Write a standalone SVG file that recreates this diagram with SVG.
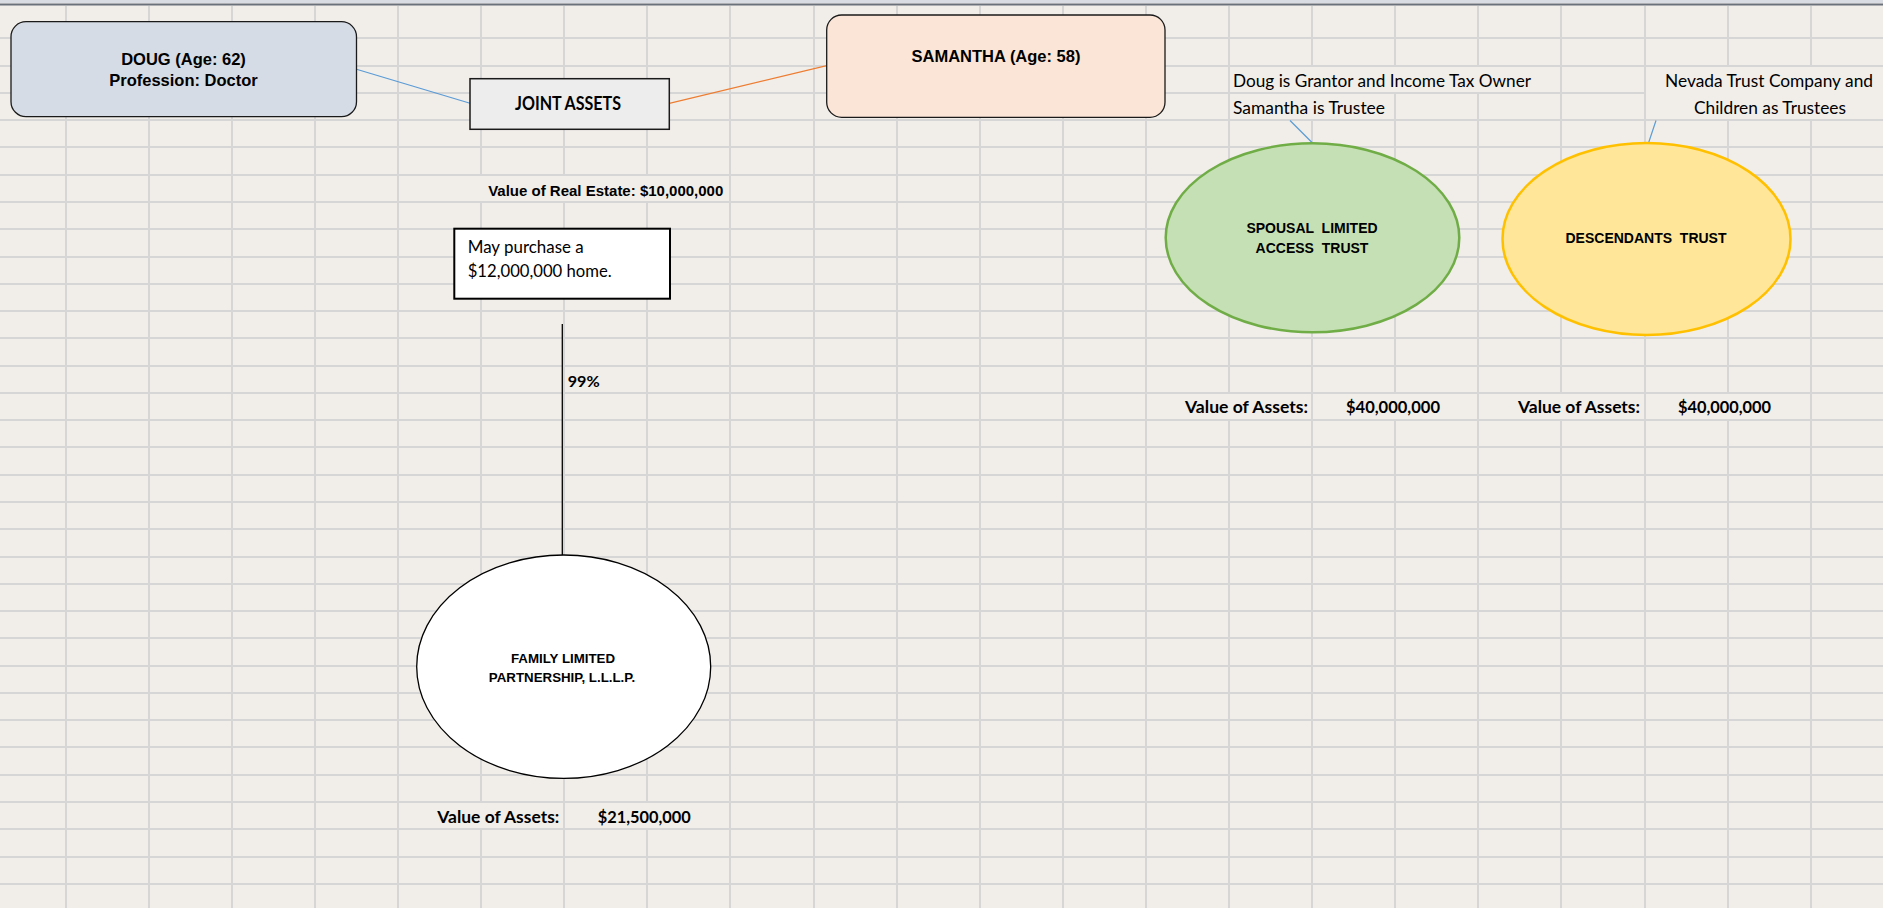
<svg xmlns="http://www.w3.org/2000/svg" width="1883" height="908" viewBox="0 0 1883 908">
  <style>
    .grid { fill: none; stroke: #d6d6d6; stroke-width: 2; }
    .arialb { font-family: "Liberation Sans", Arial, sans-serif; font-weight: bold; fill: #000; }
    .cal { font-family: Lato, "Liberation Sans", sans-serif; fill: #000; }
    .calb { font-family: Lato, "Liberation Sans", sans-serif; font-weight: bold; fill: #000; }
    .box { stroke: #1a1a1a; stroke-width: 1.3; }
    .link-blue { stroke: #5b9bd5; stroke-width: 1.2; fill: none; }
    .link-orange { stroke: #ed7d31; stroke-width: 1.2; fill: none; }
    .link-black { stroke: #000; stroke-width: 1.3; fill: none; }
  </style>

  <!-- sheet background -->
  <rect x="0" y="0" width="1883" height="908" fill="#f1eeea"/>

  <!-- cell gridlines (gaps where text overflows or cells are merged) -->
  <path class="grid" d="
    M66 6V908 M149 6V908 M232 6V908 M315 6V908 M398 6V908
    M481 6V175 M481 202V802 M481 829V908
    M564 6V175 M564 202V908
    M647 6V175 M647 202V802 M647 829V908
    M730 6V908 M814 6V908 M897 6V908 M980 6V908 M1063 6V908 M1146 6V908
    M1229 6V393 M1229 420V908
    M1312 6V66 M1312 120V908
    M1395 6V66 M1395 93V393 M1395 420V908
    M1478 6V66 M1478 93V908
    M1561 6V393 M1561 420V908
    M1645 6V908
    M1728 6V66 M1728 120V393 M1728 420V908
    M1811 6V66 M1811 120V908
    M0 38H1883 M0 66H1883 M0 93H1645 M0 120H1883 M0 147H1883 M0 175H1883
    M0 202H1883 M0 229H1883 M0 257H1883 M0 284H1883 M0 311H1883 M0 338H1883
    M0 366H1883 M0 393H1883 M0 420H1883 M0 447H1883 M0 475H1883 M0 502H1883
    M0 529H1883 M0 557H1883 M0 584H1883 M0 611H1883 M0 638H1883 M0 666H1883
    M0 693H1883 M0 720H1883 M0 747H1883 M0 775H1883 M0 802H1883 M0 829H1883
    M0 857H1883 M0 884H1883"/>

  <!-- frame edge along the top -->
  <rect x="0" y="0" width="1883" height="3" fill="#d9dde3"/>
  <line x1="0" y1="4.5" x2="1883" y2="4.5" stroke="#6b717a" stroke-width="2"/>

  <!-- connectors -->
  <g id="connectors">
    <line class="link-blue" x1="356.5" y1="69.3" x2="470" y2="103.3"/>
    <line class="link-orange" x1="669.3" y1="103.3" x2="826.7" y2="65.7"/>
    <line class="link-black" x1="562.3" y1="324" x2="562.3" y2="555"/>
    <line class="link-blue" x1="1290" y1="120.5" x2="1312.5" y2="143" stroke-width="1"/>
    <line class="link-blue" x1="1656" y1="120.5" x2="1648.5" y2="143" stroke-width="1"/>
  </g>

  <g id="doug">
    <rect class="box" x="11" y="21.7" width="345.5" height="95" rx="15" fill="#d6dce5"/>
    <text class="arialb" font-size="16.5" text-anchor="middle" x="183.5" y="65">DOUG (Age: 62)</text>
    <text class="arialb" font-size="16.5" text-anchor="middle" x="183.5" y="86">Profession: Doctor</text>
  </g>

  <g id="samantha">
    <rect class="box" x="826.7" y="15" width="338.3" height="102.3" rx="15" fill="#fbe5d6"/>
    <text class="arialb" font-size="16.5" text-anchor="middle" x="996" y="62.3">SAMANTHA (Age: 58)</text>
  </g>

  <g id="joint-assets">
    <rect x="470" y="78.7" width="199.3" height="50.6" fill="#ededed" stroke="#1a1a1a" stroke-width="1.5"/>
    <text class="calb" font-size="18" x="515" y="110" textLength="106" lengthAdjust="spacingAndGlyphs">JOINT ASSETS</text>
  </g>

  <g id="real-estate-value">
    <text class="arialb" font-size="15" text-anchor="end" x="723.3" y="195.7">Value of Real Estate: $10,000,000</text>
  </g>

  <g id="purchase-note">
    <rect x="454.3" y="228.7" width="215.7" height="70" fill="#ffffff" stroke="#000" stroke-width="2"/>
    <text class="cal" font-size="17" x="467.7" y="253.3" textLength="116" lengthAdjust="spacingAndGlyphs">May purchase a</text>
    <text class="cal" font-size="17" x="467.7" y="276.7" textLength="144" lengthAdjust="spacingAndGlyphs">$12,000,000 home.</text>
  </g>

  <g id="share-label">
    <text class="calb" font-size="16" x="567.7" y="386.7" textLength="32" lengthAdjust="spacingAndGlyphs">99%</text>
  </g>

  <g id="flp">
    <ellipse cx="563.7" cy="666.7" rx="147" ry="111.7" fill="#ffffff" stroke="#000" stroke-width="1.3"/>
    <text class="arialb" font-size="13.3" text-anchor="middle" x="563" y="663.3">FAMILY LIMITED</text>
    <text class="arialb" font-size="13.3" text-anchor="middle" x="562" y="681.7">PARTNERSHIP, L.L.L.P.</text>
    <text class="calb" font-size="17.5" x="437.3" y="822.7" textLength="122" lengthAdjust="spacingAndGlyphs">Value of Assets:</text>
    <text class="calb" font-size="17.5" x="597.7" y="822.7" textLength="93" lengthAdjust="spacingAndGlyphs">$21,500,000</text>
  </g>

  <g id="slat-note">
    <text class="cal" font-size="16.5" x="1233" y="87" textLength="298" lengthAdjust="spacingAndGlyphs">Doug is Grantor and Income Tax Owner</text>
    <text class="cal" font-size="16.5" x="1233" y="114" textLength="152" lengthAdjust="spacingAndGlyphs">Samantha is Trustee</text>
  </g>

  <g id="slat">
    <ellipse cx="1312.5" cy="237.8" rx="146.8" ry="94.5" fill="#c5e0b4" stroke="#70ad47" stroke-width="2.5"/>
    <text class="arialb" font-size="14" text-anchor="middle" x="1312" y="233" xml:space="preserve">SPOUSAL  LIMITED</text>
    <text class="arialb" font-size="14" text-anchor="middle" x="1312" y="252.5" xml:space="preserve">ACCESS  TRUST</text>
    <text class="calb" font-size="17.5" x="1185" y="413" textLength="123" lengthAdjust="spacingAndGlyphs">Value of Assets:</text>
    <text class="calb" font-size="17.5" x="1346" y="413" textLength="94" lengthAdjust="spacingAndGlyphs">$40,000,000</text>
  </g>

  <g id="descendants-note">
    <text class="cal" font-size="16.5" text-anchor="middle" x="1769" y="87" textLength="208" lengthAdjust="spacingAndGlyphs">Nevada Trust Company and</text>
    <text class="cal" font-size="16.5" text-anchor="middle" x="1770" y="114" textLength="152" lengthAdjust="spacingAndGlyphs">Children as Trustees</text>
  </g>

  <g id="descendants-trust">
    <ellipse cx="1646.5" cy="239" rx="144" ry="96" fill="#ffe699" stroke="#ffc000" stroke-width="2.5"/>
    <text class="arialb" font-size="14" text-anchor="middle" x="1646" y="243" xml:space="preserve">DESCENDANTS  TRUST</text>
    <text class="calb" font-size="17.5" x="1518" y="413" textLength="122" lengthAdjust="spacingAndGlyphs">Value of Assets:</text>
    <text class="calb" font-size="17.5" x="1678" y="413" textLength="93" lengthAdjust="spacingAndGlyphs">$40,000,000</text>
  </g>
</svg>
